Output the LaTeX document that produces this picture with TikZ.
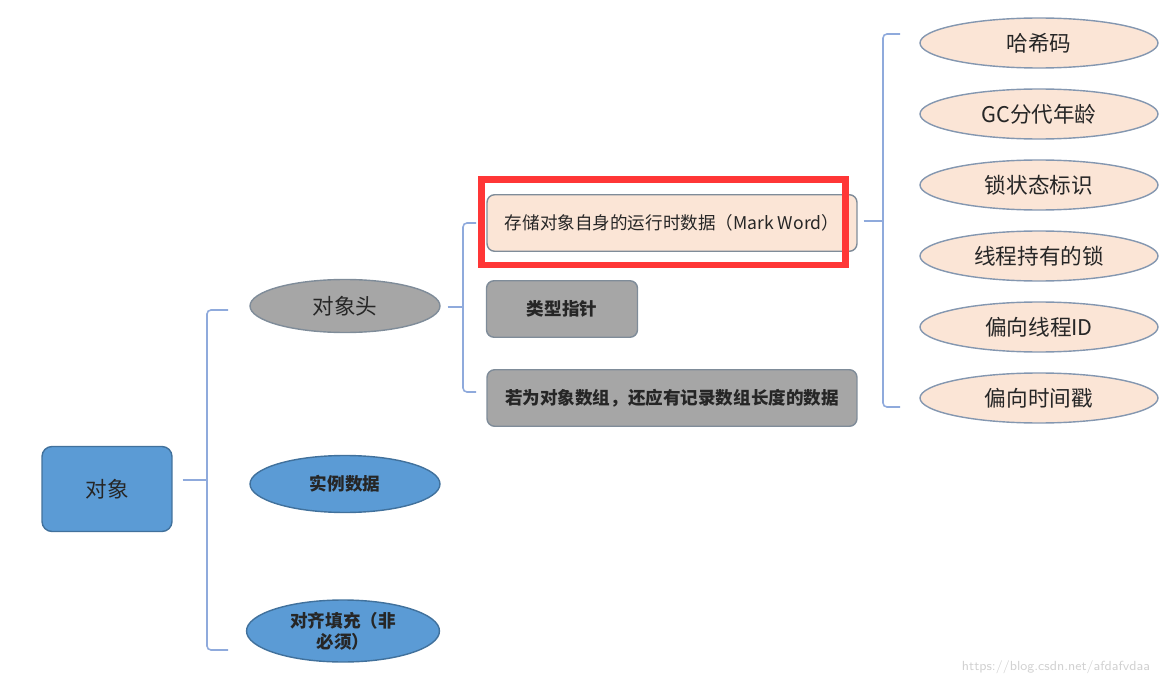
\documentclass[tikz,border=0pt]{standalone}
\usepackage{fontspec}
\newfontfamily\cjk{Noto Sans CJK SC}
\usepackage{tikz}
\usetikzlibrary{shapes.geometric}
\usepackage{xcolor}
\definecolor{myblue}{HTML}{5B9BD5}
\definecolor{myblueline}{HTML}{41719C}
\definecolor{mygray}{HTML}{A6A6A6}
\definecolor{mygrayline}{HTML}{7F8C99}
\definecolor{mypeach}{HTML}{FBE5D6}
\definecolor{mypeachline}{HTML}{8497B0}
\definecolor{bracecol}{HTML}{8FAADC}
\definecolor{myred}{HTML}{FF3636}
\tikzstyle{txt}=[font=\cjk,text=black!85,inner sep=0]
\tikzstyle{bluebox}=[txt,draw=myblueline,fill=myblue,thick,rounded corners=0.2cm]
\tikzstyle{blueball}=[txt,ellipse,draw=myblueline,fill=myblue,thick,minimum width=3.8cm]
\tikzstyle{grayball}=[txt,ellipse,draw=mygrayline,fill=mygray,thick,minimum width=3.8cm]
\tikzstyle{graybox}=[txt,draw=mygrayline,fill=mygray,thick,rounded corners=0.15cm,minimum height=1.13cm]
\tikzstyle{peachbox}=[txt,draw=mygrayline,fill=mypeach,thick,rounded corners=0.15cm,minimum height=1.13cm]
\tikzstyle{peachball}=[txt,ellipse,draw=mypeachline,fill=mypeach,thick,minimum width=4.76cm,minimum height=1cm,font=\cjk\fontsize{12.3}{14}\selectfont]
\tikzstyle{brace}=[draw=bracecol,line width=0.9pt,rounded corners=0.08cm]

\begin{document}
\begin{tikzpicture}[x=0.02cm,y=-0.02cm]
\useasboundingbox (0,0) rectangle (1174,686);

% left part
\node[bluebox,minimum width=2.6cm,minimum height=1.7cm,font=\cjk\fontsize{12.3}{14}\selectfont] (obj) at (107,489) {对象};
\node[grayball,minimum height=1.06cm,font=\cjk\fontsize{12.3}{14}\selectfont] (head) at (345,306) {对象头};
\node[blueball,minimum height=1.14cm,font=\cjk\bfseries\fontsize{10}{12}\selectfont] (inst) at (345,484) {实例数据};
\node[blueball,minimum width=3.86cm,minimum height=1.24cm,align=center,font=\cjk\bfseries\fontsize{10}{12}\selectfont] (pad) at (343,631) {对齐填充（非\\必须）};

\coordinate (s1) at (207,480);
\coordinate (b1t) at (228,310);
\coordinate (b1b) at (228,650);
\draw[brace] (b1t) -| (s1) |- (b1b);
\draw[brace] ([xshift=0.2cm]obj.east |- s1) -- (s1);

% object header
\node[peachbox,minimum width=7.4cm,font=\cjk\fontsize{10}{12}\selectfont] (mark) at (672,223) {存储对象自身的运行时数据（Mark Word）};
\node[graybox,minimum width=3.02cm,font=\cjk\bfseries\fontsize{10}{12}\selectfont] (klass) at (562,309) {类型指针};
\node[graybox,minimum width=7.4cm,font=\cjk\bfseries\fontsize{10}{12}\selectfont] (len) at (672,398) {若为对象数组，还应有记录数组长度的数据};

\coordinate (s2) at (463,307);
\coordinate (b2t) at (476,223);
\coordinate (b2b) at (476,392);
\draw[brace] (b2t) -| (s2) |- (b2b);
\draw[brace] ([xshift=0.14cm]head.east |- s2) -- (s2);

\draw[myred,line width=0.14cm] (481.5,179.5) rectangle (845,265);

% mark word
\node[peachball] (hash) at (1039,43) {哈希码};
\node[peachball] (age) at (1039,114) {GC分代年龄};
\node[peachball] (lock) at (1039,185) {锁状态标识};
\node[peachball] (hold) at (1039,256) {线程持有的锁};
\node[peachball] (tid) at (1039,327) {偏向线程ID};
\node[peachball] (stamp) at (1039,398) {偏向时间戳};

\coordinate (s3) at (883,221);
\coordinate (b3t) at (900,34);
\coordinate (b3b) at (900,407);
\draw[brace] (b3t) -| (s3) |- (b3b);
\draw[brace] ([xshift=0.12cm]mark.east |- s3) -- (s3);

\node[font=\sffamily\fontsize{7.5}{9}\selectfont,text=black!18] (wm) at (1056,667) {https://blog.csdn.net/afdafvdaa};
\end{tikzpicture}
\end{document}
